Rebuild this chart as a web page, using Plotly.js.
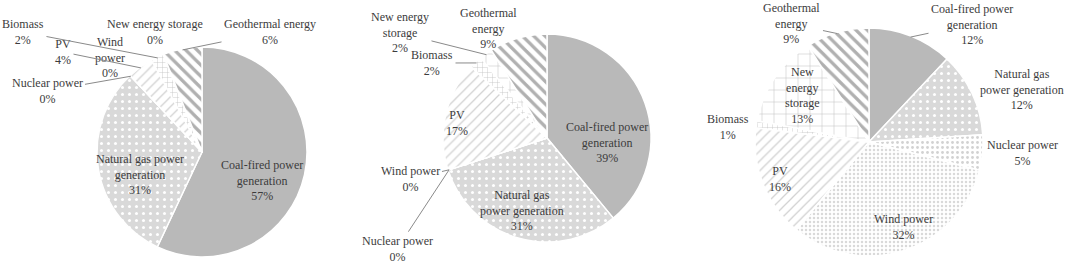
<!DOCTYPE html>
<html><head><meta charset="utf-8">
<script src="https://cdn.plot.ly/plotly-3.0.1.min.js"></script>
<style>html,body{margin:0;padding:0;background:#fff}#chart{width:1065px;height:266px}</style>
</head><body><div id="chart"></div>
<script>
// ---- data ----
const categories = ['Coal-fired power generation','Natural gas power generation','Nuclear power','Wind power','PV','Biomass','New energy storage','Geothermal energy'];
const valuesA = [57, 31, 0, 0, 4, 2, 0, 6];
const valuesB = [39, 31, 0, 0, 17, 2, 2, 9];
const valuesC = [12, 12, 5, 32, 16, 1, 13, 9];

// display names (line breaks as in the figure)
const namesA = ['Coal-fired power<br>generation','Natural gas power<br>generation','Nuclear power','Wind<br>power','PV','Biomass','New energy storage','Geothermal energy'];
const namesB = ['Coal-fired power<br>generation','Natural gas<br>power generation','Nuclear power','Wind power','PV','Biomass','New energy<br>storage','Geothermal<br>energy'];
const namesC = ['Coal-fired power<br>generation','Natural gas<br>power generation','Nuclear power','Wind power','PV','Biomass','New<br>energy<br>storage','Geothermal<br>energy'];

// ---- layout / style ----
const W = 1065, H = 266;
const pies = [
  {values: valuesA, names: namesA, cx: 202, cy: 152, r: 105,
   pos: [[262,180,0],[140,174,0],[47,91,1],[110,57,0],[63,52,1],[23,32,1],[155,32,0],[270,32,1]]},
  {values: valuesB, names: namesB, cx: 547, cy: 138, r: 104,
   pos: [[607,142,0],[522,210,0],[397,249,1],[410,179,1],[457,123,0],[432,63,1],[400,33,1],[488,28,1]]},
  {values: valuesC, names: namesC, cx: 869, cy: 142, r: 114,
   pos: [[972,24,1],[1022,89,0],[1022,153,0],[903,227,0],[780,179,0],[728,127,0],[802,95,0],[792,24,1]]}
];

const sliceColors = ['#b9b9b9','#d9d9d9','#ffffff','#ffffff','#ffffff','#ffffff','#ffffff','#ffffff'];
const pattern = {
  fillmode: 'replace',
  shape:    ['',        '.',      '.',      '.',      '/',      '+',      '+',      '\\'],
  bgcolor:  ['#b9b9b9','#d9d9d9','#ffffff','#ffffff','#ffffff','#ffffff','#ffffff','#ffffff'],
  fgcolor:  ['#b9b9b9','#ffffff','#d2d2d2','#d9d9d9','#d2d2d2','#bdbdbd','#bdbdbd','#b0b0b0'],
  size:     [8, 7, 5, 4, 7, 5, 12, 8],
  solidity: [0.3, 0.15, 0.25, 0.3, 0.18, 0.15, 0.08, 0.4]
};
const font = {family: 'Liberation Serif, Times New Roman, serif', size: 12, color: '#3c3c3c'};

const traces = [];
const annotations = [];
pies.forEach(p => {
  traces.push({
    type: 'pie',
    labels: categories,
    values: p.values,
    sort: false,
    direction: 'clockwise',
    rotation: 0,
    textinfo: 'none',
    hoverinfo: 'label+percent',
    showlegend: false,
    domain: {x: [(p.cx - p.r) / W, (p.cx + p.r) / W], y: [1 - (p.cy + p.r) / H, 1 - (p.cy - p.r) / H]},
    marker: {colors: sliceColors, pattern: pattern, line: {color: '#ffffff', width: 1.5}}
  });
  const total = p.values.reduce((a, b) => a + b, 0);
  let cum = 0;
  p.values.forEach((v, i) => {
    const mid = (cum + v / 2) / total * 2 * Math.PI;
    cum += v;
    const [tx, ty, arrow] = p.pos[i];
    const text = p.names[i] + '<br>' + v + '%';
    if (arrow) {
      const px = p.cx + p.r * 0.99 * Math.sin(mid);
      const py = p.cy - p.r * 0.99 * Math.cos(mid);
      annotations.push({xref: 'paper', yref: 'paper', x: px / W, y: 1 - py / H,
        ax: tx - px, ay: ty - py, text: text, showarrow: true, arrowhead: 0,
        arrowwidth: 1, arrowcolor: '#8a8a8a', standoff: 0, startstandoff: 1, font: font});
    } else {
      annotations.push({xref: 'paper', yref: 'paper', x: tx / W, y: 1 - ty / H,
        xanchor: 'center', yanchor: 'middle', text: text, showarrow: false, font: font});
    }
  });
});

Plotly.newPlot('chart', traces, {
  width: W, height: H,
  margin: {l: 0, r: 0, t: 0, b: 0},
  paper_bgcolor: '#ffffff',
  annotations: annotations,
  font: font
}, {displayModeBar: false, staticPlot: true});
</script></body></html>
